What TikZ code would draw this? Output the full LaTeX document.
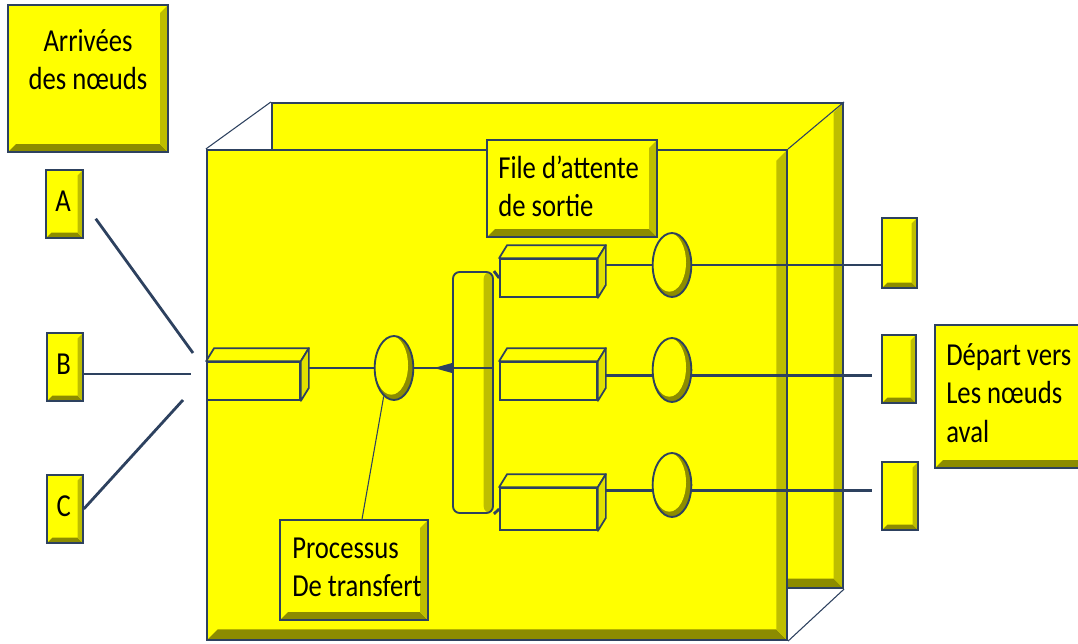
\documentclass[tikz,border=0pt]{standalone}
\usepackage{fontspec}
\setmainfont{Carlito}
\usepackage{graphicx}
\usetikzlibrary{shapes.geometric,fit}
\definecolor{yel}{RGB}{255,255,0}
\definecolor{olv}{RGB}{140,140,0}
\definecolor{olvm}{RGB}{190,190,0}
\definecolor{yelR}{RGB}{225,225,0}
\definecolor{outl}{RGB}{45,65,95}
\newcommand\mltext[1]{\scalebox{1}[1.2]{\begin{tabular}{@{}l@{}}#1\end{tabular}}}
\newcommand\mctext[1]{\scalebox{1}[1.2]{\begin{tabular}{@{}c@{}}#1\end{tabular}}}
\newcommand\qfaces[1]{%
  \filldraw[face] (#1.north west) -- ([shift={(8,-13)}]#1.north west) -- ([shift={(8,-13)}]#1.north east) -- (#1.north east) -- cycle;
  \filldraw[face, fill=yelR] (#1.north east) -- ([shift={(8,-13)}]#1.north east) -- ([shift={(8,-13)}]#1.south east) -- (#1.south east) -- cycle;}
\pgfdeclarelayer{bg}\pgfdeclarelayer{lines}\pgfsetlayers{bg,lines,main}
\begin{document}
\begin{tikzpicture}[x=0.75pt,y=-0.75pt,
  bevel/.style={fill=yel, draw=outl, line width=1.1pt, inner sep=0pt,
    path picture={
      \fill[olv] (path picture bounding box.south west) -- (path picture bounding box.south east)
        -- ([shift={(-#1,#1)}]path picture bounding box.south east) -- ([shift={(#1,#1)}]path picture bounding box.south west) -- cycle;
      \fill[olvm] (path picture bounding box.south east) -- (path picture bounding box.north east)
        -- ([shift={(-#1,-#1)}]path picture bounding box.north east) -- ([shift={(-#1,#1)}]path picture bounding box.south east) -- cycle;
    }},
  bevel/.default=5pt,
  txt/.style={font=\fontsize{20}{24}\selectfont, inner sep=0pt, text=black},
  qbox/.style={fill=yel, draw=outl, line width=1.3pt, inner sep=0pt},
  face/.style={fill=yel, draw=outl, line width=1.3pt, line join=round},
  ell/.style={ellipse, minimum width=29pt, minimum height=48pt, inner sep=0pt, draw=outl, line width=1.4pt, fill=olv,
    path picture={\fill[yel] ([shift={(-2pt,2pt)}]path picture bounding box.center) ellipse (12.5pt and 22pt);}},
  conn/.style={draw=outl, line width=2.1pt},
  thinl/.style={draw=outl, line width=0.8pt}]
\useasboundingbox (0,0) rectangle (1078,643);

\begin{pgfonlayer}{bg}
  \node[bevel=7pt, line width=1.6pt, fit={(272,103)(843,588)}] (back) {};
  \node[bevel=8pt, line width=1.6pt, fit={(207,150)(787,640)}] (front) {};
  \draw[thinl] (front.north west) -- (back.north west);
  \draw[thinl] (front.north east) -- (back.north east);
  \draw[thinl] (front.south east) -- (back.south east);
\end{pgfonlayer}

% labels
\node[bevel=6pt, fit={(8,5)(168,152)}] (arr) {};
\node[txt, anchor=north] (arrT) at (88,24) {\mctext{Arrivées\\des nœuds}};
\node[bevel=4pt, fit={(46,170)(83,238)}] (A) {};
\node[bevel=4pt, fit={(47,333)(83,401)}] (B) {};
\node[bevel=4pt, fit={(47,475)(83,543)}] (C) {};
\node[txt] (AT) at ([xshift=-1pt]A.center) {\mctext{A}};
\node[txt] (BT) at ([xshift=-1pt]B.center) {\mctext{B}};
\node[txt] (CT) at ([xshift=-1pt]C.center) {\mctext{C}};

\node[bevel=6pt, fit={(487,140)(657,237)}] (file) {};
\node[txt, anchor=west] (fileT) at (498,190) {\mltext{File d’attente\\de sortie}};
\node[bevel=6pt, fit={(280,520)(428,620)}] (proc) {};
\node[txt, anchor=west] (procT) at (292,570) {\mltext{Processus\\De transfert}};
\node[bevel=6pt, fit={(935,325)(1090,468)}] (dep) {};
\node[txt, anchor=west] (depT) at (946,396) {\mltext{Départ vers\\Les nœuds\\aval}};

% output boxes
\node[bevel=4pt, fit={(882,218)(917,288)}] (o1) {};
\node[bevel=4pt, fit={(882,335)(916,403)}] (o2) {};
\node[bevel=4pt, fit={(882,462)(918,530)}] (o3) {};

% queues
\node[qbox, fit={(207,362)(300,400)}] (q0) {};
\node[qbox, fit={(500,259)(597,297)}] (q1) {};
\node[qbox, fit={(500,362)(597,400)}] (q2) {};
\node[qbox, fit={(500,488)(597,530)}] (q3) {};

% processors
\node[ell] (e0) at (394,368) {};
\node[ell] (e1) at (672,265) {};
\node[ell] (e2) at (672,370) {};
\node[ell] (e3) at (672,485) {};

% bus
\node[fill=yel, draw=outl, line width=1.4pt, rounded corners=5pt, inner sep=0pt, fit={(453,272)(493,513)},
  path picture={\fill[olvm] ([xshift=-7pt]path picture bounding box.north east) rectangle (path picture bounding box.south east);}] (bus) {};

\begin{pgfonlayer}{lines}
  \coordinate (fa) at (193,353);
  \coordinate (fb) at (191,374);
  \coordinate (fc) at (183,400);
  \draw[conn] ([shift={(12,-20)}]A.south east) -- (fa);
  \draw[conn] (B.east |- fb) -- (fb);
  \draw[conn] (C.east) -- (fc);
  \draw[conn] (q0.east |- e0.west) -- (e0.west);
  \draw[conn] (q1.east |- e1.west) -- (e1.west);
  \draw[conn] ([yshift=-4pt]q2.east |- e2.west) -- ([yshift=-4pt]e2.west);
  \draw[conn] ([yshift=-4pt]q3.east |- e3.west) -- ([yshift=-4pt]e3.west);
  \draw[conn] (e1.east) -- (o1.west |- e1.east);
  \draw[conn, shorten >=7pt] ([yshift=-4pt]e2.east) -- ([yshift=-4pt]o2.west |- e2.east);
  \draw[conn, shorten >=7pt] ([yshift=-4pt]e3.east) -- ([yshift=-4pt]o3.west |- e3.east);
  \draw[conn] (bus.north east) -- (q1.west);
  \draw[conn] (bus.south east) -- (q3.west);
  \draw[thinl] ([xshift=6pt]proc.north) -- (e0.250);
\end{pgfonlayer}

\qfaces{q0}
\qfaces{q1}
\qfaces{q2}
\qfaces{q3}

\draw[conn] (e0.east) -- (bus.east |- e0.east);
\fill[outl] (bus.west |- e0.east) ++(0,-5) -- ++(-18,5) -- ++(18,5) -- cycle;
\end{tikzpicture}
\end{document}
